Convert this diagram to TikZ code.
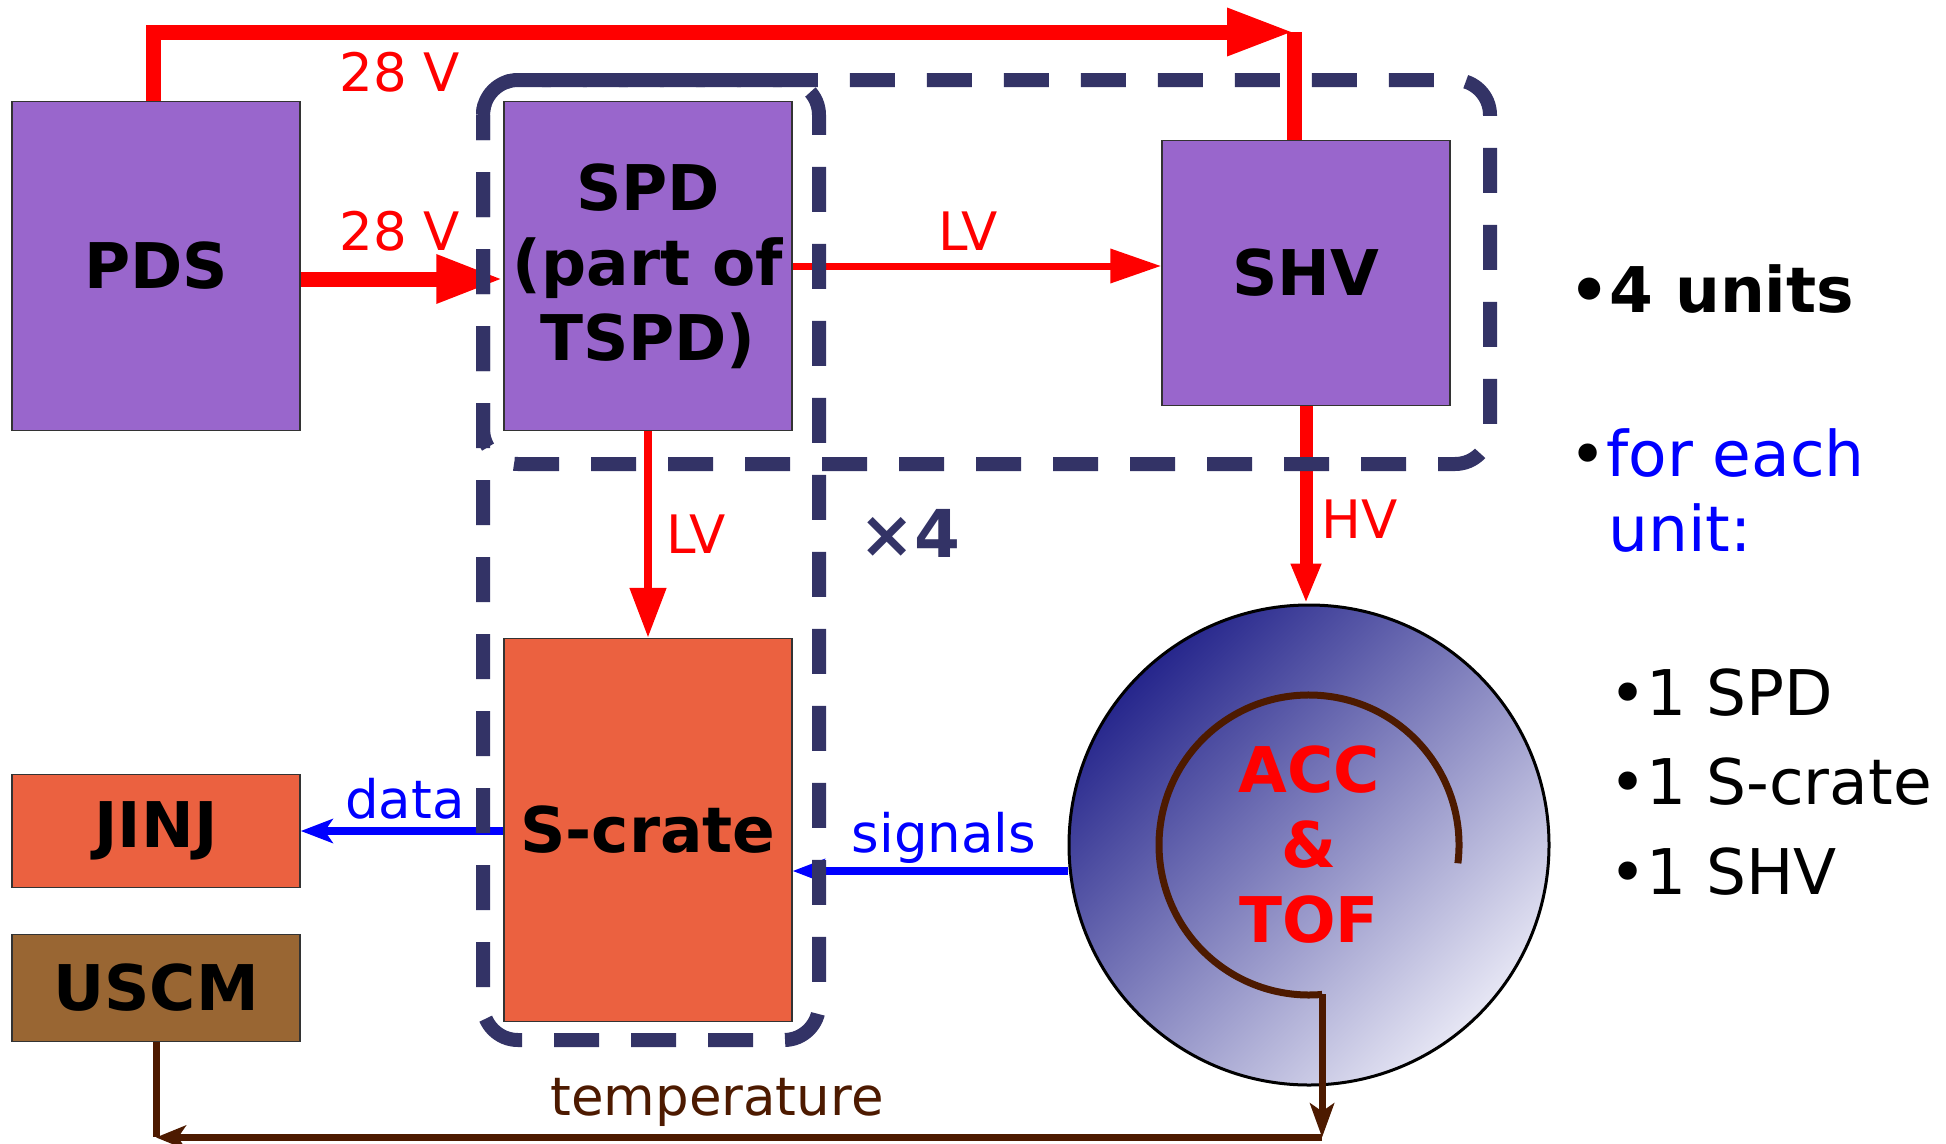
\documentclass[tikz,border=0pt]{standalone}
\usepackage{fontspec}
\setmainfont{DejaVu Sans}
\usetikzlibrary{arrows.meta}
\definecolor{unitpurple}{RGB}{153,102,204}
\definecolor{crateorange}{RGB}{235,97,64}
\definecolor{uscmbrown}{RGB}{153,102,51}
\definecolor{framenavy}{RGB}{51,51,102}
\definecolor{tempbrown}{RGB}{77,26,0}
\definecolor{ringdark}{RGB}{38,38,140}
\definecolor{ringlight}{RGB}{230,230,244}

\begin{document}
\begin{tikzpicture}[x=1pt,y=-1pt,
  unitbox/.style={draw=black!80,line width=1.5pt,minimum width=288pt,align=center,
    font=\fontsize{63}{75}\selectfont\bfseries},
  lbl/.style={font=\fontsize{53}{60}\selectfont},
  sidetext/.style={anchor=base west,inner sep=0pt,font=\fontsize{63}{75}\selectfont},
  powerline/.style={red,line width=15pt},
  sigline/.style={blue,line width=8pt,-{Stealth[length=32pt,width=24pt,inset=8pt]}},
  templine/.style={tempbrown,line width=7pt},
  unitframe/.style={draw=framenavy,line width=14pt,dash pattern=on 45pt off 32pt,
    dash phase=20pt,rounded corners=35pt}]
\useasboundingbox (0,0) rectangle (1946,1143);
\node[unitbox,fill=unitpurple,minimum height=329pt] (pds) at (156,266) {PDS};
\node[unitbox,fill=unitpurple,minimum height=329pt] (spd) at (648,266) {SPD\\(part of\\TSPD)};
\node[unitbox,fill=unitpurple,minimum height=265pt] (shv) at (1306,273) {SHV};
\node[unitbox,fill=crateorange,minimum height=383pt] (scrate) at (648,830) {S-crate};
\node[unitbox,fill=crateorange,minimum height=113pt] (jinj) at (156,831) {JINJ};
\node[unitbox,fill=uscmbrown,minimum height=107pt] (uscm) at (156,988) {USCM};
\node[circle,draw=black,line width=3pt,minimum size=480pt,inner sep=0pt,
  top color=ringdark,bottom color=ringlight,shading angle=45,align=center,
  text=red,font=\fontsize{63}{75}\selectfont\bfseries] (ring) at (1309,845) {ACC\\\&\\TOF};
\draw[templine] (ring.center) ++(7:150) arc[start angle=7,end angle=-275,radius=150]
  coordinate (arcend);
\coordinate (topl) at (153,32);
\coordinate (topr) at (1294,32);
\path (arcend) ++(0,143) coordinate (tempr);
\coordinate (templ) at (uscm.south |- tempr);
\draw[powerline,-{Triangle[length=67pt,width=44pt]}] (pds.north -| topl) -- (topl) -- (topr);
\draw[powerline] (topr) -- (shv.north -| topr);
\draw[powerline,-{Triangle[length=67pt,width=45pt]}] ([yshift=-13pt]pds.east) -- ([yshift=-13pt]spd.west);
\draw[red,line width=7pt,-{Triangle[length=51pt,width=33pt]}] (spd.east) -- (spd.east -| shv.west);
\draw[red,line width=8pt,-{Triangle[length=50pt,width=35pt]}] (spd.south) -- (scrate.north);
\draw[red,line width=13pt,-{Triangle[length=40pt,width=28pt]}] (shv.south) -- (shv.south |- ring.north);
\draw[sigline] (jinj.east -| scrate.west) -- (jinj.east);
\draw[sigline] ([yshift=-26pt]ring.west) -- ([yshift=-41pt]scrate.east);
\draw[templine,-{Stealth[length=34pt,width=24pt,inset=8pt]}] (arcend) -- (tempr);
\draw[templine,-{Stealth[length=30pt,width=24pt,inset=8pt]}] (tempr) -- (templ);
\draw[templine] (uscm.south) -- (templ);
\draw[unitframe] (483,80) rectangle (1490,464);
\draw[unitframe] (483,80) rectangle (819,1040);
\node[lbl,red] (v28a) at (400,72) {28 V};
\node[lbl,red] (v28b) at (400,231) {28 V};
\node[lbl,red] (lva) at (968,231) {LV};
\node[lbl,red] (lvb) at (696,534) {LV};
\node[lbl,red] (hv) at (1360,519) {HV};
\node[lbl,blue] (data) at (405,799) {data};
\node[lbl,blue] (signals) at (944,838) {signals};
\node[lbl,tempbrown] (templbl) at (717,1102) {temperature};
\node[font=\fontsize{66}{70}\selectfont\bfseries,text=framenavy] (times) at (910,533) {×4};
\node[sidetext,font=\fontsize{63}{75}\selectfont\bfseries] (units) at (1569,312) {•4 units};
\node[sidetext,text=blue] (each) at (1569,476) {\textcolor{black}{•}for each};
\node[sidetext,text=blue] (eachunit) at (1608,551) {unit:};
\foreach \t/\y in {1 SPD/715,1 S-crate/804,1 SHV/894}
  \node[sidetext] (item\y) at (1609,\y) {•\t};
\end{tikzpicture}
\end{document}
